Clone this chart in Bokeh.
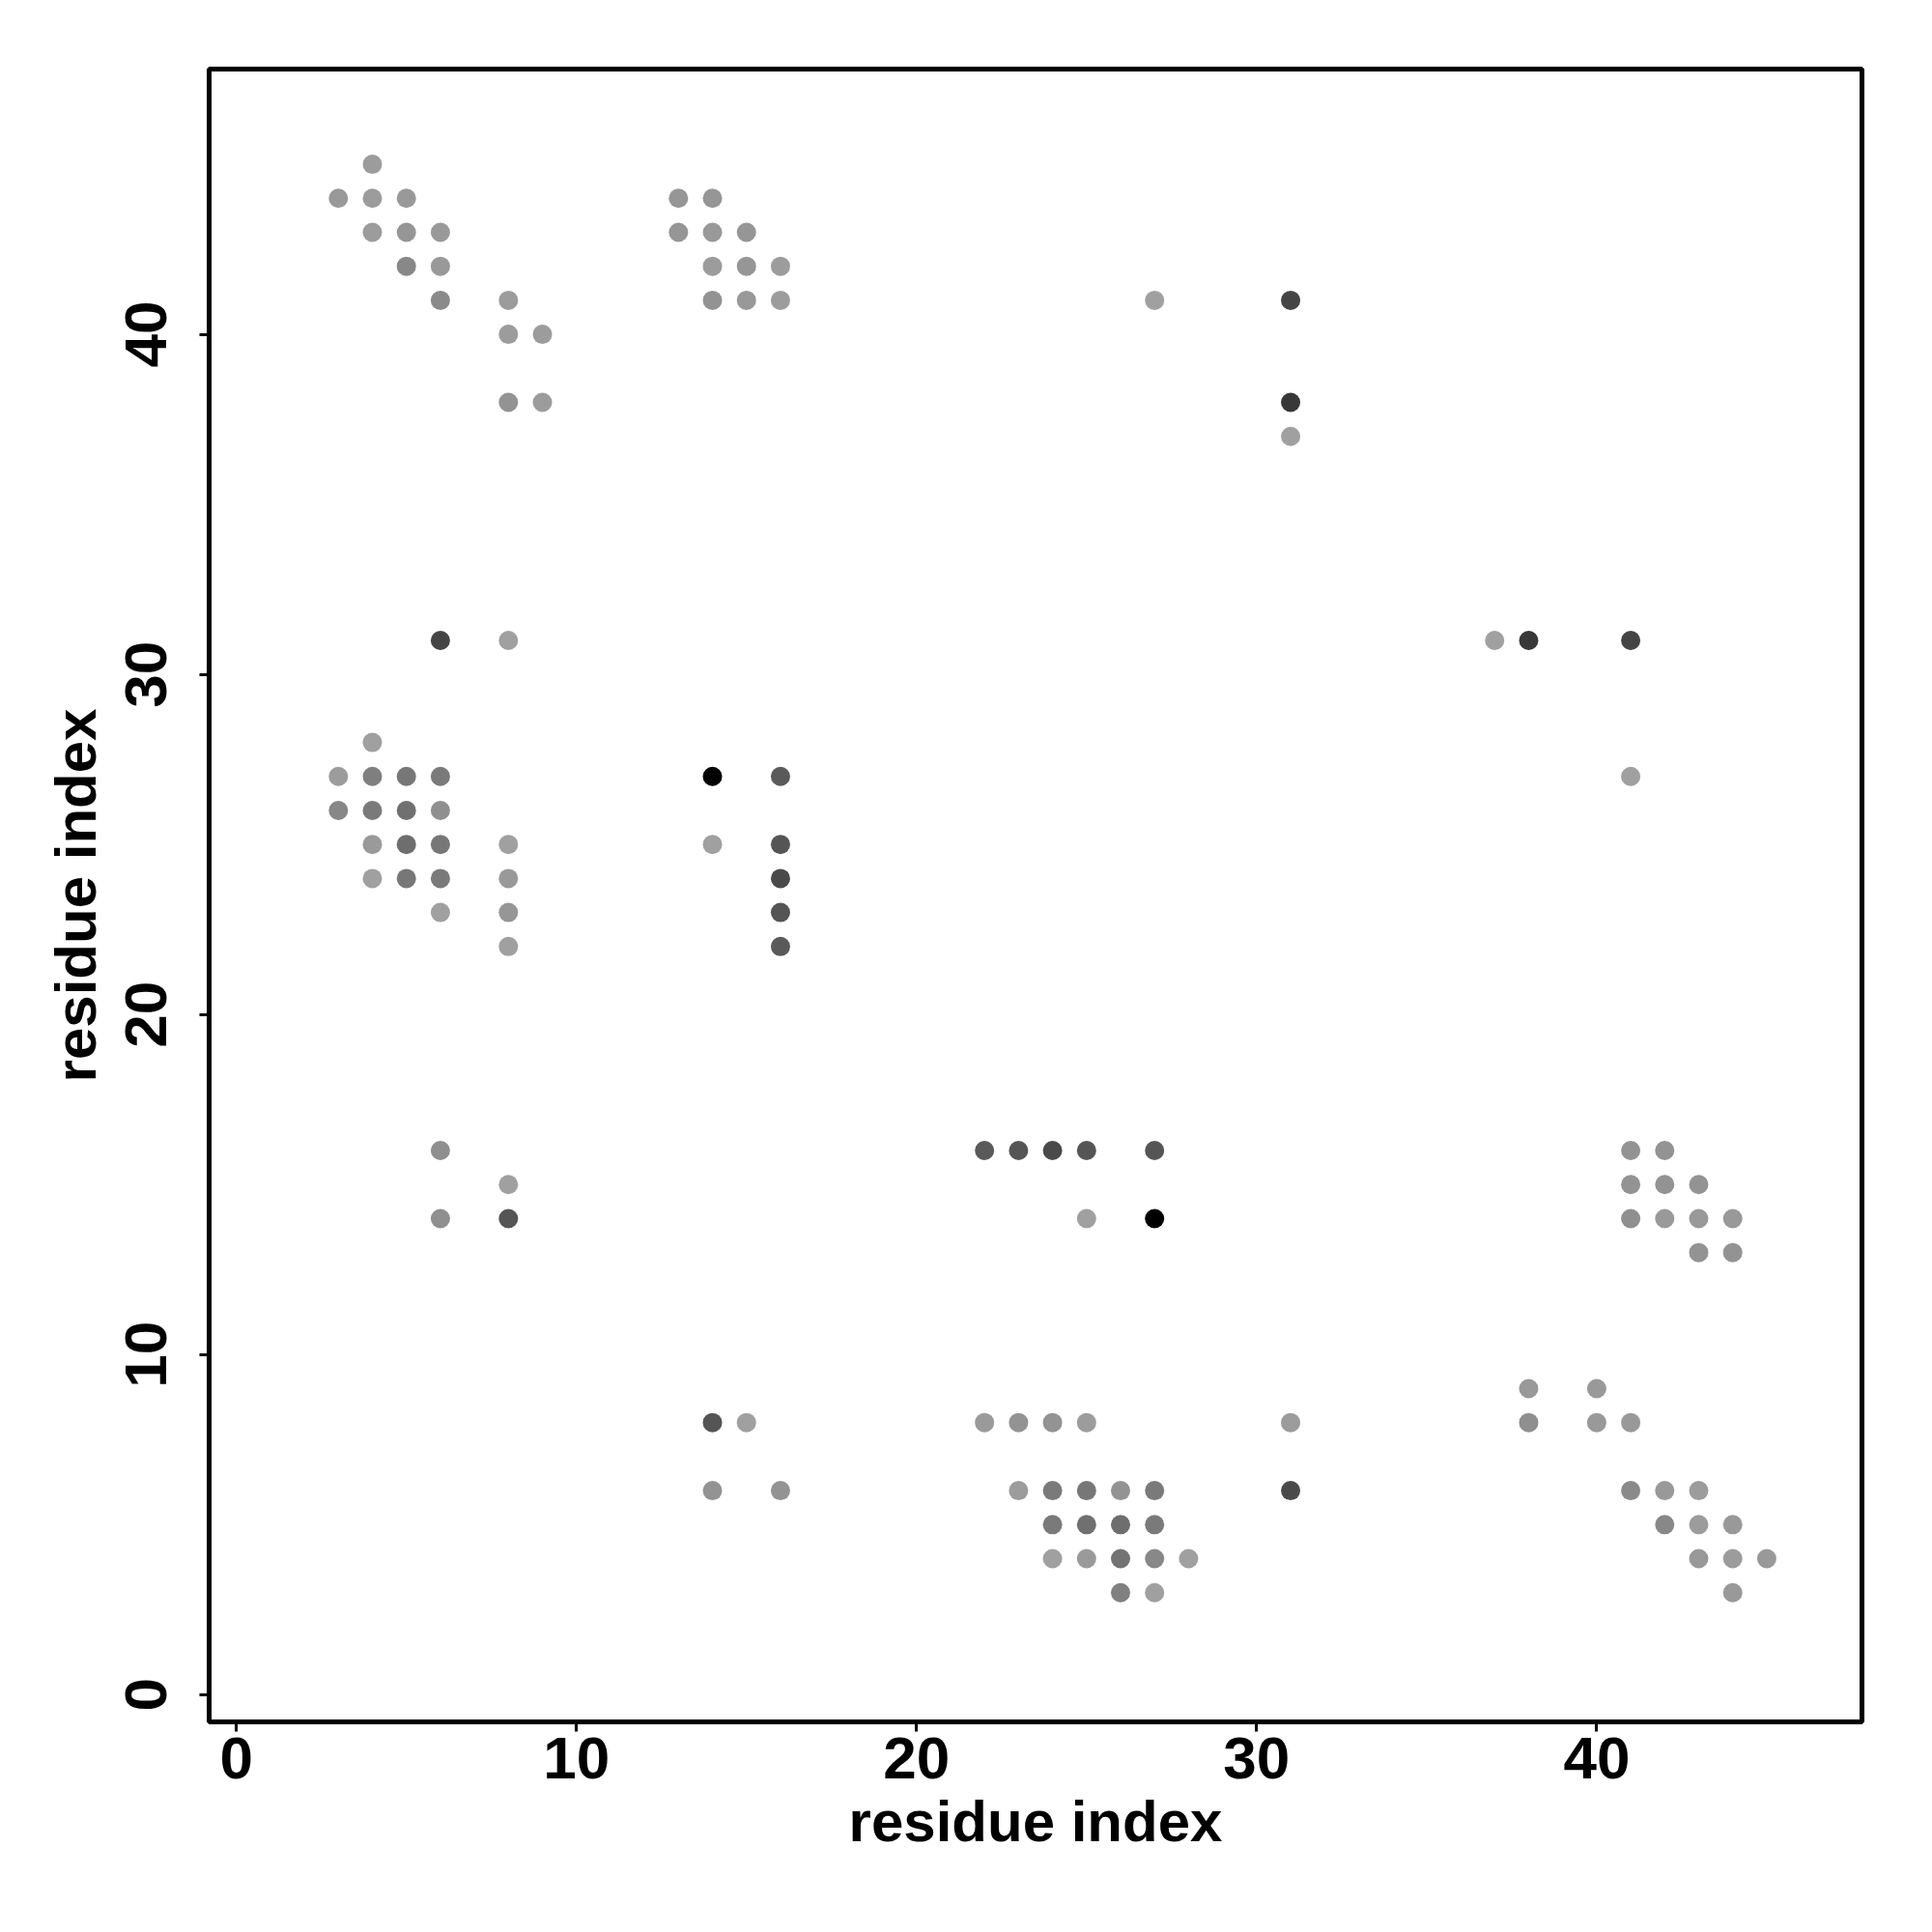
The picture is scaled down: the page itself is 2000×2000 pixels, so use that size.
from bokeh.plotting import figure
from bokeh.models import Range1d, ColumnDataSource, FixedTicker
from bokeh.embed import file_html
from bokeh.resources import INLINE

# contact points: residue i, residue j, grey intensity (0 = black, 255 = white)
res_i = [4, 3, 4, 5, 4, 5, 6, 5, 6, 6, 8, 8, 9, 8, 9,
         13, 14, 13, 14, 15, 14, 15, 16, 14, 15, 16,
         27, 31, 31, 31,
         6, 8, 4, 3, 4, 5, 6, 3, 4, 5, 6, 4, 5, 6, 8, 4, 5, 6, 8, 6, 8, 8,
         14, 16, 14, 16, 16, 16, 16,
         37, 38, 41, 41,
         6, 8, 6, 8,
         22, 23, 24, 25, 27, 25, 27,
         41, 42, 41, 42, 43, 41, 42, 43, 44, 43, 44,
         14, 15, 14, 16,
         22, 23, 24, 25, 31, 23, 24, 25, 26, 27, 31, 24, 25, 26, 27, 24, 25, 26, 27, 28, 26, 27,
         38, 40, 38, 40, 41, 41, 42, 43, 42, 43, 44, 43, 44, 45, 44]
res_j = [45, 44, 44, 44, 43, 43, 43, 42, 42, 41, 41, 40, 40, 38, 38,
         44, 44, 43, 43, 43, 42, 42, 42, 41, 41, 41,
         41, 41, 38, 37,
         31, 31, 28, 27, 27, 27, 27, 26, 26, 26, 26, 25, 25, 25, 25, 24, 24, 24, 24, 23, 23, 22,
         27, 27, 25, 25, 24, 23, 22,
         31, 31, 31, 27,
         16, 15, 14, 14,
         16, 16, 16, 16, 16, 14, 14,
         16, 16, 15, 15, 15, 14, 14, 14, 14, 13, 13,
         8, 8, 6, 6,
         8, 8, 8, 8, 8, 6, 6, 6, 6, 6, 6, 5, 5, 5, 5, 4, 4, 4, 4, 4, 3, 3,
         9, 9, 8, 8, 8, 6, 6, 6, 5, 5, 5, 4, 4, 4, 3]
grey = [156, 153, 156, 153, 156, 150, 153, 136, 153, 138, 156, 156, 156, 147, 156,
        150, 150, 150, 153, 150, 156, 150, 156, 147, 153, 156,
        160, 68, 56, 160,
        68, 160, 160, 156, 127, 119, 122, 135, 122, 112, 143, 154, 110, 119, 160, 160, 119, 122, 153, 160, 150, 160,
        0, 90, 160, 85, 74, 85, 90,
        160, 56, 68, 160,
        143, 160, 143, 85,
        90, 85, 74, 85, 85, 160, 0,
        147, 147, 147, 147, 147, 143, 153, 153, 153, 147, 147,
        85, 160, 147, 147,
        154, 147, 147, 156, 156, 156, 122, 119, 147, 122, 74, 122, 112, 110, 122, 160, 154, 115, 136, 160, 128, 160,
        153, 153, 143, 153, 153, 138, 153, 156, 136, 156, 153, 153, 156, 153, 153]

x_ticks = [0, 10, 20, 30, 40]
y_ticks = [0, 10, 20, 30, 40]

colors = ["#%02x%02x%02x" % (g, g, g) for g in grey]
src = ColumnDataSource(dict(x=res_i, y=res_j, c=colors))

FONT = "Liberation Sans"

p = figure(width=1984, height=1984, output_backend="svg", toolbar_location=None,
           x_range=Range1d(-0.8, 47.8), y_range=Range1d(-0.8, 47.8),
           min_border_left=216, min_border_right=57, min_border_top=71, min_border_bottom=202)

p.scatter("x", "y", source=src, size=20, fill_color="c", line_color=None, marker="circle")

p.grid.visible = False
p.background_fill_color = "white"
p.border_fill_color = "white"
p.outline_line_color = "black"
p.outline_line_width = 5
p.outline_line_alpha = 1.0

for ax, ticks in ((p.xaxis[0], x_ticks), (p.yaxis[0], y_ticks)):
    ax.ticker = FixedTicker(ticks=ticks)
    ax.axis_line_color = None
    ax.major_tick_line_color = "black"
    ax.major_tick_line_width = 3
    ax.major_tick_out = 10
    ax.major_tick_in = 0
    ax.minor_tick_line_color = None
    ax.major_label_text_font = FONT
    ax.major_label_text_font_style = "bold"
    ax.major_label_text_font_size = "62px"
    ax.major_label_text_color = "black"
    ax.axis_label = "residue index"
    ax.axis_label_text_font = FONT
    ax.axis_label_text_font_style = "bold"
    ax.axis_label_text_font_size = "60px"
    ax.axis_label_text_color = "black"

p.xaxis.major_label_standoff = 6
p.xaxis.axis_label_standoff = 8
p.yaxis.major_label_orientation = "vertical"
p.yaxis.major_label_standoff = 34
p.yaxis.axis_label_standoff = 16

open("out.html", "w").write(file_html(p, INLINE))
